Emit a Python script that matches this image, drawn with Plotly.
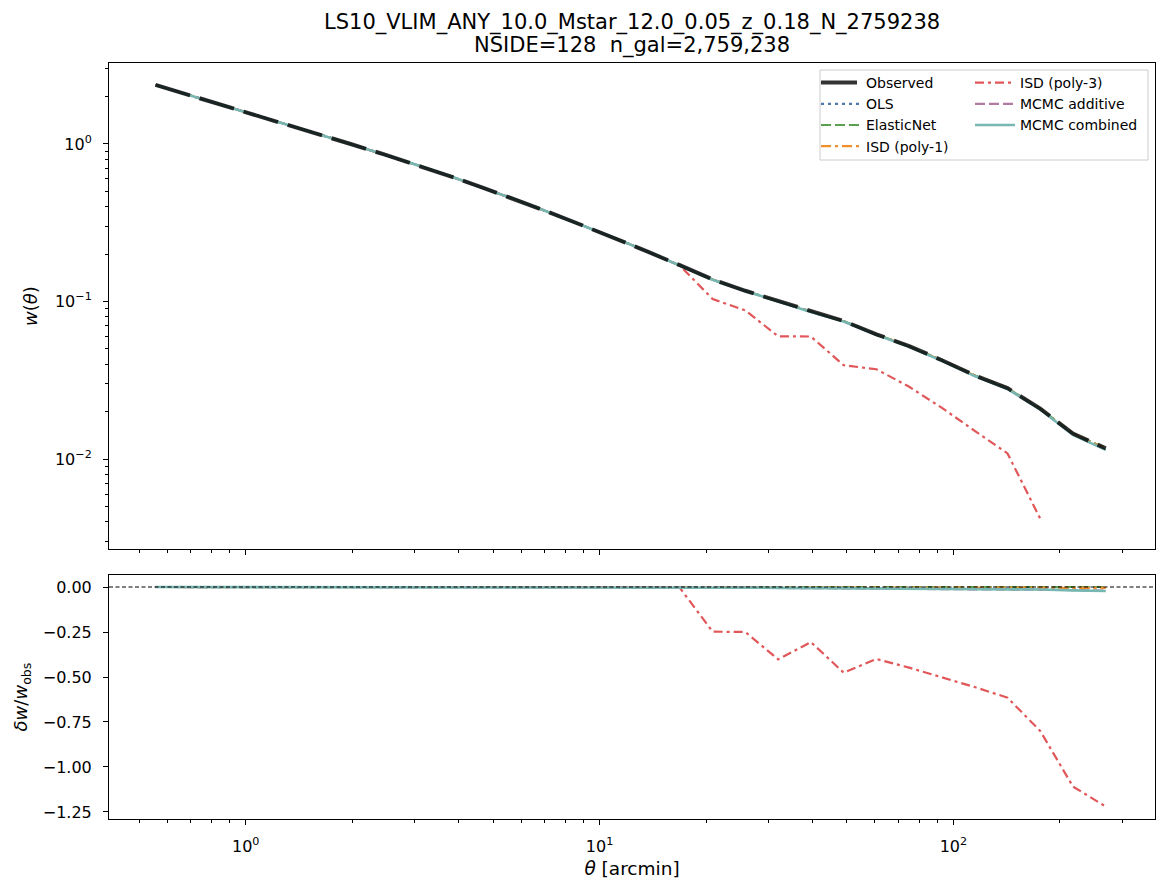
import plotly.graph_objects as go

# ---- data ----
theta = [0.556, 0.688, 0.852, 1.054, 1.305, 1.615, 2.000, 2.475, 3.063, 3.791,
         4.692, 5.807, 7.187, 8.895, 11.01, 13.62, 16.86, 20.87, 25.83, 31.97,
         39.56, 48.97, 60.60, 75.00, 92.83, 114.9, 142.2, 176.0, 217.8, 269.6]

w_obs = [2.37, 2.054, 1.781, 1.541, 1.332, 1.150, 0.992, 0.855, 0.732, 0.623,
         0.527, 0.442, 0.369, 0.306, 0.253, 0.208, 0.170, 0.138, 0.117, 0.1006,
         0.0864, 0.0752, 0.0619, 0.0521, 0.0424, 0.0340, 0.0282, 0.0209, 0.0145, 0.0117]

# relative differences delta w / w_obs per model
d_ols = [0.0, 0.0, 0.0, 0.0, 0.0, 0.0, 0.0, 0.0, 0.0, 0.0,
         0.0, 0.0, 0.0, 0.0, 0.0, 0.0, 0.0, 0.0, -0.001, -0.001,
         -0.001, -0.001, -0.002, -0.002, -0.002, -0.002, -0.003, -0.003, -0.003, -0.004]
d_enet = [0.0, 0.0, 0.0, 0.0, 0.0, 0.0, 0.0, 0.0, 0.0, 0.0,
          0.0, 0.0, 0.0, 0.0, 0.0, 0.0, 0.0, 0.0, 0.0, 0.0,
          0.0, 0.0, 0.0, 0.0, 0.0, 0.0, 0.0, 0.0, 0.0, 0.0]
d_isd1 = [0.0, 0.0, 0.0, 0.0, 0.0, 0.0, 0.0, 0.0, 0.0, 0.0,
          0.0, 0.0, 0.0, 0.0, 0.0, 0.0, 0.0, -0.001, -0.001, -0.001,
          -0.002, -0.002, -0.002, -0.003, -0.003, -0.003, -0.004, -0.004, -0.005, -0.005]
d_isd3 = [0.0, 0.0, 0.0, 0.0, 0.0, 0.0, 0.0, 0.0, 0.0, 0.0,
          0.0, 0.0, 0.0, 0.0, 0.0, 0.0, -0.005, -0.248, -0.250, -0.402,
          -0.306, -0.476, -0.400, -0.448, -0.502, -0.556, -0.615, -0.800, -1.109, -1.220]
d_madd = [0.0, 0.0, 0.0, 0.0, 0.0, 0.0, 0.0, 0.0, 0.0, 0.0,
          0.0, 0.0, 0.0, 0.0, 0.0, 0.0, -0.002, -0.003, -0.004, -0.005,
          -0.006, -0.007, -0.008, -0.008, -0.009, -0.010, -0.011, -0.013, -0.017, -0.020]
d_mcomb = [0.0, 0.0, 0.0, 0.0, 0.0, 0.0, 0.0, 0.0, 0.0, 0.0,
           0.0, 0.0, 0.0, 0.0, 0.0, 0.0, -0.002, -0.003, -0.004, -0.005,
           -0.006, -0.007, -0.008, -0.009, -0.010, -0.011, -0.012, -0.014, -0.019, -0.022]

names = ["OLS", "ElasticNet", "ISD (poly-1)", "ISD (poly-3)", "MCMC additive", "MCMC combined"]
deltas = [d_ols, d_enet, d_isd1, d_isd3, d_madd, d_mcomb]
colors = ["#4E79A7", "#59A14F", "#F28E2B", "#E15759", "#B07AA1", "#76B7B2"]
dashes = ["3px,4px", "10px,4px", "10px,4px,3px,4px", "9px,4px,3px,4px", "10px,4px", "solid"]
widths = [2.2, 2.2, 2.2, 2.2, 2.2, 2.6]
legends = ["legend", "legend", "legend", "legend2", "legend2", "legend2"]

FONT = "DejaVu Sans"
fig = go.Figure()

# top panel model curves
for i, (nm, d) in enumerate(zip(names, deltas)):
    wm = []
    for wo, dv in zip(w_obs, d):
        v = wo * (1.0 + dv)
        wm.append(v if v > 0 else None)
    fig.add_trace(go.Scatter(
        x=theta, y=wm, mode="lines", name=nm,
        line=dict(color=colors[i], width=widths[i], dash=dashes[i]),
        xaxis="x", yaxis="y", legend=legends[i], legendrank=i + 2,
        connectgaps=False))

# observed drawn over the models
fig.add_trace(go.Scatter(
    x=theta, y=w_obs, mode="lines", name="Observed",
    line=dict(color="rgba(0,0,0,0.8)", width=4, dash="36px,10px"),
    xaxis="x", yaxis="y", legend="legend", legendrank=1))

# bottom panel
for i, (nm, d) in enumerate(zip(names, deltas)):
    fig.add_trace(go.Scatter(
        x=theta, y=d, mode="lines", name=nm, showlegend=False,
        line=dict(color=colors[i], width=widths[i], dash=dashes[i]),
        xaxis="x2", yaxis="y2"))

# zero reference line
fig.add_shape(type="line", xref="x2 domain", yref="y2", x0=0, x1=1, y0=0, y1=0,
              line=dict(color="black", width=1.1, dash="4px,2.5px"))

# pixel helpers for the plotting area
L, R, T, B = 109, 1155, 63, 819
W, H = R - L, B - T
def px(x):
    return (x - L) / W
def py(y):
    return (B - y) / H

# legend frame
fig.add_shape(type="rect", xref="paper", yref="paper",
              x0=px(820), x1=px(1148), y0=py(70), y1=py(160),
              line=dict(color="#cccccc", width=1), fillcolor="rgba(255,255,255,0.8)",
              layer="below")

# title (two lines)
fig.add_annotation(text="LS10_VLIM_ANY_10.0_Mstar_12.0_0.05_z_0.18_N_2759238",
                   xref="paper", yref="paper", x=0.5, y=py(22), xanchor="center",
                   yanchor="middle", showarrow=False,
                   font=dict(family=FONT, size=21, color="black"))
fig.add_annotation(text="NSIDE=128\u00a0 n_gal=2,759,238",
                   xref="paper", yref="paper", x=0.5, y=py(46), xanchor="center",
                   yanchor="middle", showarrow=False,
                   font=dict(family=FONT, size=21, color="black"))

xmin = [0.5, 0.6, 0.7, 0.8, 0.9, 2, 3, 4, 5, 6, 7, 8, 9, 20, 30, 40, 50, 60, 70, 80, 90, 200, 300]
ymin = [0.003, 0.004, 0.005, 0.006, 0.007, 0.008, 0.009,
        0.02, 0.03, 0.04, 0.05, 0.06, 0.07, 0.08, 0.09,
        0.2, 0.3, 0.4, 0.5, 0.6, 0.7, 0.8, 0.9, 2, 3]

axis_common = dict(showline=True, mirror=True, linecolor="black", linewidth=1,
                   showgrid=False, zeroline=False, ticks="outside", ticklen=5,
                   tickwidth=1, tickcolor="black", ticklabelstandoff=8,
                   tickfont=dict(family=FONT, size=16, color="black"))
minor_common = dict(ticks="outside", ticklen=3, tickwidth=1, tickcolor="black",
                    tickmode="array", showgrid=False)

fig.update_layout(
    width=1167, height=891,
    margin=dict(l=L, r=1167 - R, t=T, b=891 - B),
    paper_bgcolor="white", plot_bgcolor="white",
    font=dict(family=FONT, color="black"),
    xaxis=dict(type="log", range=[-0.3864, 2.5698], domain=[0, 1], anchor="y",
               tickvals=[1, 10, 100], showticklabels=False, matches="x2",
               minor=dict(tickvals=xmin, **minor_common),
               **axis_common),
    yaxis=dict(type="log", range=[-2.571, 0.514], domain=[py(549), 1], anchor="x",
               tickvals=[0.01, 0.1, 1],
               ticktext=["10<sup>\u22122</sup>", "10<sup>\u22121</sup>", "10<sup>0</sup>"],
               minor=dict(tickvals=ymin, **minor_common),
               title=dict(text="<i>w</i>(<i>θ</i>)", standoff=12,
                          font=dict(family=FONT, size=18, color="black")),
               **axis_common),
    xaxis2=dict(type="log", range=[-0.3864, 2.5698], domain=[0, 1], anchor="y2",
                tickvals=[1, 10, 100],
                ticktext=["10<sup>0</sup>", "10<sup>1</sup>", "10<sup>2</sup>"],
                minor=dict(tickvals=xmin, **minor_common),
                title=dict(text="<i>θ</i> [arcmin]", standoff=6,
                           font=dict(family=FONT, size=18.5, color="black")),
                **axis_common),
    yaxis2=dict(range=[-1.289, 0.0667], domain=[0, py(575)], anchor="x2",
                tickvals=[0, -0.25, -0.5, -0.75, -1.0, -1.25],
                ticktext=["0.00", "\u22120.25", "\u22120.50", "\u22120.75", "\u22121.00", "\u22121.25"],
                title=dict(text="<i>δw</i>/<i>w</i><sub>obs</sub>", standoff=10,
                           font=dict(family=FONT, size=18, color="black")),
                **axis_common),
    legend=dict(x=px(816), y=py(67), xanchor="left", yanchor="top",
                bgcolor="rgba(0,0,0,0)", borderwidth=0, traceorder="normal",
                font=dict(family=FONT, size=14, color="black"),
                tracegroupgap=0, itemwidth=40),
    legend2=dict(x=px(970), y=py(67), xanchor="left", yanchor="top",
                 bgcolor="rgba(0,0,0,0)", borderwidth=0, traceorder="normal",
                 font=dict(family=FONT, size=14, color="black"),
                 tracegroupgap=0, itemwidth=40),
    showlegend=True,
)

fig.write_html("out.html")
